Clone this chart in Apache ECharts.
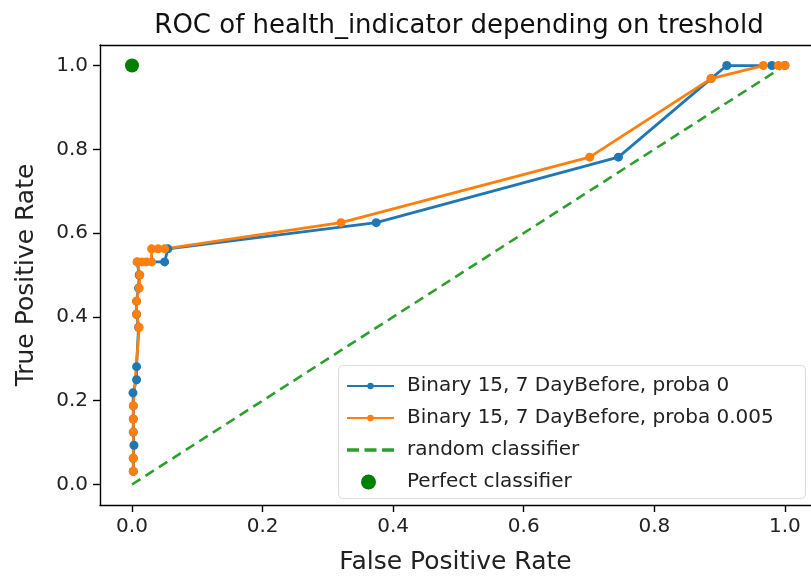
<!DOCTYPE html>
<html>
<head>
<meta charset="utf-8">
<script src="https://cdn.jsdelivr.net/npm/echarts@6/dist/echarts.min.js"></script>
<style>
  html, body { margin: 0; padding: 0; background: #fff; }
  #roc { width: 811px; height: 580px; }
</style>
</head>
<body>
<div id="roc"></div>
<script>
// ROC points
var blueFpr = [0.002, 0.002, 0.003, 0.002, 0.002, 0.002, 0.0015, 0.007, 0.007, 0.010, 0.007, 0.007, 0.010, 0.011, 0.008, 0.050, 0.055, 0.374, 0.745, 0.887, 0.911, 0.980, 1.0];
var blueTpr = [0.03125, 0.0625, 0.09375, 0.125, 0.15625, 0.1875, 0.21875, 0.25, 0.28125, 0.375, 0.40625, 0.4375, 0.46875, 0.5, 0.53125, 0.53125, 0.5625, 0.625, 0.78125, 0.96875, 1.0, 1.0, 1.0];

var orangeFpr = [0.002, 0.002, 0.002, 0.002, 0.002, 0.011, 0.007, 0.007, 0.011, 0.012, 0.008, 0.015, 0.022, 0.030, 0.030, 0.040, 0.050, 0.320, 0.701, 0.887, 0.967, 0.990, 1.0];
var orangeTpr = [0.03125, 0.0625, 0.125, 0.15625, 0.1875, 0.375, 0.40625, 0.4375, 0.46875, 0.5, 0.53125, 0.53125, 0.53125, 0.53125, 0.5625, 0.5625, 0.5625, 0.625, 0.78125, 0.96875, 1.0, 1.0, 1.0];

var randomFpr = [0, 1];
var randomTpr = [0, 1];
var perfectPoint = [0, 1];

var tickValues = [0, 0.2, 0.4, 0.6, 0.8, 1.0];
var seriesNames = ['Binary 15, 7 DayBefore, proba 0', 'Binary 15, 7 DayBefore, proba 0.005', 'random classifier', 'Perfect classifier'];

function zip(xs, ys) {
  return xs.map(function (x, i) { return [x, ys[i]]; });
}

var font = 'DejaVu Sans';
var chart = echarts.init(document.getElementById('roc'));

function axisBase(extra) {
  var a = {
    type: 'value',
    splitLine: { show: false },
    axisLine: { show: true, onZero: false, lineStyle: { color: '#000', width: 1.4 } },
    axisTick: { show: true, length: 7, lineStyle: { color: '#000', width: 1.4 }, customValues: tickValues },
    axisLabel: {
      show: true, color: '#222', fontSize: 20, fontFamily: font, margin: 12,
      customValues: tickValues,
      formatter: function (v) { return v.toFixed(1); }
    }
  };
  for (var k in extra) a[k] = extra[k];
  return a;
}

// dashed handle for the random classifier legend entry
var dashIcon = 'path://M0,0h11v3h-11zM16,0h11v3h-11zM32,0h11v3h-11z';

chart.setOption({
  animation: false,
  title: {
    text: 'ROC of health_indicator depending on treshold',
    left: 454, top: 8, textAlign: 'center',
    textStyle: { fontFamily: font, fontSize: 26, fontWeight: 'normal', color: '#111' }
  },
  grid: { left: 100, right: 0, top: 45, bottom: 70 },
  xAxis: [
    axisBase({
      min: -0.049, max: 1.04, position: 'bottom',
      name: 'False Positive Rate', nameLocation: 'middle', nameGap: 45,
      nameTextStyle: { fontFamily: font, fontSize: 25, color: '#222' }
    }),
    {
      type: 'value', min: -0.049, max: 1.04, position: 'top',
      splitLine: { show: false }, axisTick: { show: false }, axisLabel: { show: false },
      axisLine: { show: true, onZero: false, lineStyle: { color: '#000', width: 1.4 } }
    }
  ],
  yAxis: axisBase({
    min: -0.049, max: 1.049,
    name: 'True Positive Rate', nameLocation: 'middle', nameGap: 61,
    nameTextStyle: { fontFamily: font, fontSize: 25, color: '#222' }
  }),
  legend: [
    {
      data: [seriesNames[0], seriesNames[1], { name: seriesNames[2], icon: dashIcon }],
      orient: 'vertical', left: 341, top: 370,
      itemWidth: 47, itemHeight: 8, itemGap: 10,
      textStyle: { fontFamily: font, fontSize: 20, color: '#222', lineHeight: 22, padding: [0, 0, 0, 8] }
    },
    {
      data: [seriesNames[3]],
      orient: 'vertical', left: 356, top: 466,
      itemWidth: 47, itemHeight: 15,
      textStyle: { fontFamily: font, fontSize: 20, color: '#222', lineHeight: 22, padding: [0, 0, 0, 10] }
    }
  ],
  graphic: [{
    type: 'rect', left: 338, top: 365, z: 0,
    shape: { width: 467, height: 133, r: 4 },
    style: { fill: 'rgba(255,255,255,0.8)', stroke: '#dcdcdc', lineWidth: 1 }
  }],
  series: [
    {
      name: seriesNames[0], type: 'line', data: zip(blueFpr, blueTpr),
      symbol: 'circle', symbolSize: 9, showSymbol: true,
      itemStyle: { color: '#1f77b4' }, lineStyle: { color: '#1f77b4', width: 2.8 }
    },
    {
      name: seriesNames[1], type: 'line', data: zip(orangeFpr, orangeTpr),
      symbol: 'circle', symbolSize: 9, showSymbol: true,
      itemStyle: { color: '#ff7f0e' }, lineStyle: { color: '#ff7f0e', width: 2.8 }
    },
    {
      name: seriesNames[2], type: 'line', data: zip(randomFpr, randomTpr),
      symbol: 'none', showSymbol: false,
      itemStyle: { color: '#2ca02c' }, lineStyle: { color: '#2ca02c', width: 2.6, type: [10, 6] }
    },
    {
      name: seriesNames[3], type: 'scatter', data: [perfectPoint],
      symbol: 'circle', symbolSize: 14,
      itemStyle: { color: '#008000', opacity: 1 }
    }
  ]
});
</script>
</body>
</html>
